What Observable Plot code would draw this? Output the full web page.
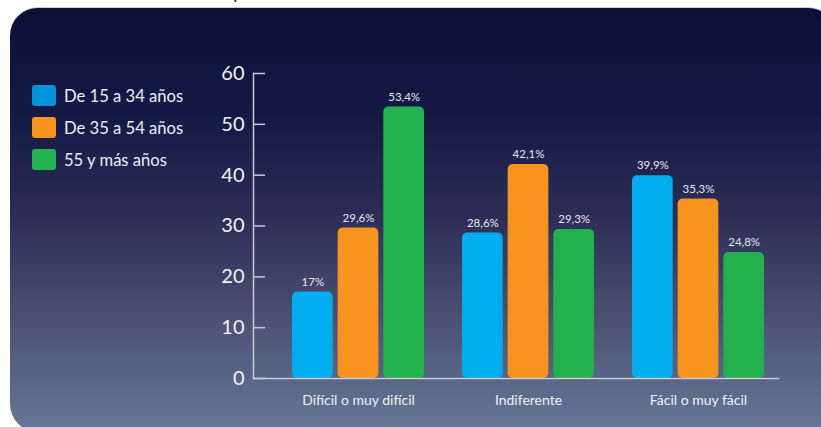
<!DOCTYPE html>
<html>
<head>
<meta charset="utf-8">
<script src="https://cdn.jsdelivr.net/npm/d3@7"></script>
<script src="https://cdn.jsdelivr.net/npm/@observablehq/plot@0.6"></script>
<style>
  html, body { margin: 0; padding: 0; background: #ffffff; }
  #wrap { position: relative; width: 821px; height: 427px; overflow: hidden; font-family: Lato, "Open Sans", sans-serif; }
  #title { position: absolute; left: 233px; top: -19px; font-size: 20px; line-height: 20px; color: #333; }
  #panel { position: absolute; left: 10px; top: 7px; width: 826px; height: 425px; border-radius: 28px;
           background: linear-gradient(to bottom, #0a1036 0%, #141a44 25%, #2a2c55 48%, #4a4f70 72%, #667898 100%);
           border-top: 1px solid #c9ccd8; box-sizing: border-box; }
  #legend { position: absolute; left: 32px; top: 85px; }
  .item { display: flex; align-items: center; height: 21px; margin-bottom: 11px; color: #eeeef4; font-size: 16.6px; }
  .sw { width: 24px; height: 21px; border-radius: 3px; margin-right: 8px; }
  #chart { position: absolute; left: 0; top: 0; }
</style>
</head>
<body>
<div id="wrap">
  <div id="title">p</div>
  <div id="panel"></div>
  <div id="legend"></div>
  <div id="chart"></div>
</div>
<script>
const categories = ["Difícil o muy difícil", "Indiferente", "Fácil o muy fácil"];
const series = ["De 15 a 34 años", "De 35 a 54 años", "55 y más años"];
const values15a34 = [17, 28.6, 39.9];
const values35a54 = [29.6, 42.1, 35.3];
const values55mas = [53.4, 29.3, 24.8];
const yTicks = [0, 10, 20, 30, 40, 50, 60];
const barColors = ["#00aeef", "#f7941d", "#22b14c"];
const legendColors = ["#0095da", "#f7941d", "#22b14c"];

const seriesValues = [values15a34, values35a54, values55mas];
const fmt = v => String(v).replace(".", ",") + "%";

// legend
const legend = document.getElementById("legend");
series.forEach((s, i) => {
  const it = document.createElement("div");
  it.className = "item";
  const sw = document.createElement("div");
  sw.className = "sw";
  sw.style.background = legendColors[i];
  const t = document.createElement("span");
  t.textContent = s;
  it.appendChild(sw); it.appendChild(t);
  legend.appendChild(it);
});

const barW = 41, gap = 4.65, step = barW + gap;

const marks = [];
series.forEach((s, i) => {
  const data = categories.map((c, j) => ({category: c, serie: s, value: seriesValues[i][j]}));
  marks.push(Plot.barY(data, {
    x: "category", y: "value", fill: barColors[i], rx: 5,
    insetLeft: i * step, insetRight: (2 - i) * step
  }));
  marks.push(Plot.text(data, {
    x: "category", y: "value", text: d => fmt(d.value),
    dx: (i - 1) * step, dy: -10, fill: "#e6e6ee", fontSize: 11.5
  }));
});

const chart = Plot.plot({
  width: 821,
  height: 427,
  marginLeft: 253,
  marginRight: 43,
  marginTop: 73,
  marginBottom: 49,
  style: { background: "transparent", color: "#f2f2f6", fontFamily: "Lato, 'Open Sans', sans-serif", overflow: "visible" },
  x: { domain: categories, range: [292, 765], paddingInner: 0.223, paddingOuter: 0, axis: null, label: null },
  y: { domain: [0, 60], axis: null, label: null },
  marks: [
    ...marks,
    Plot.frame({ anchor: "left", stroke: "#c8cad6", strokeWidth: 1.5 }),
    Plot.frame({ anchor: "bottom", stroke: "#c8cad6", strokeWidth: 1.5 }),
    Plot.axisY({ ticks: yTicks, tickSize: -12, text: null, label: null, stroke: "#c8cad6", strokeWidth: 1.5 }),
    Plot.axisY({ ticks: yTicks, tickSize: 0, tickPadding: 9, fontSize: 20, fill: "#f2f2f6", label: null }),
    Plot.axisX({ tickSize: 0, tickPadding: 17, fontSize: 14, fill: "#f0f0f5", label: null })
  ]
});
document.getElementById("chart").appendChild(chart);
</script>
</body>
</html>
